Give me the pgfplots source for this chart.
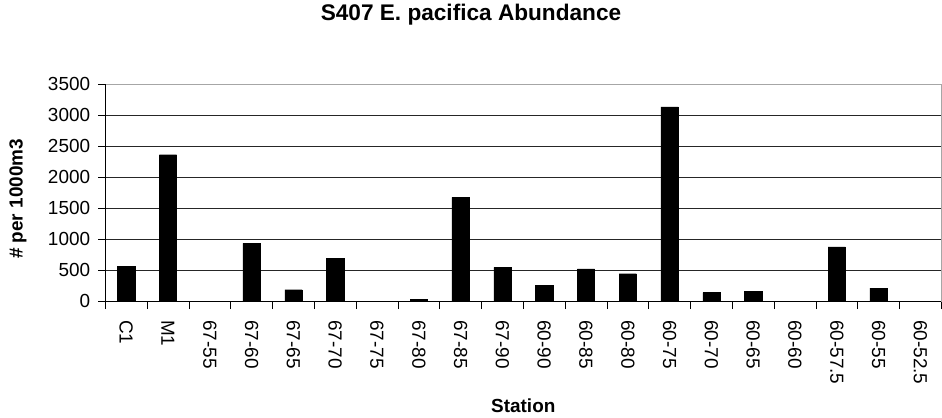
\documentclass[border=0pt]{standalone}
\usepackage{fontspec}
\setmainfont{Liberation Sans}
\usepackage{pgfplots}
\pgfplotsset{compat=1.18}

\pgfplotsset{
  tick label style={font=\fontsize{19}{19}\selectfont},
  label style={font=\bfseries\fontsize{19}{19}\selectfont},
}

\begin{document}
\begin{tikzpicture}[x=1bp,y=1bp]
\path[use as bounding box] (0,0) rectangle (942,417);
\begin{axis}[
    at={(105.3bp,116bp)}, anchor=south west,
    scale only axis,
    width=836bp, height=217bp,
    ybar, bar width=17.3bp,
    xmin=-0.5, xmax=19.5,
    ymin=0, ymax=3500,
    ytick={0,500,...,3500},
    xtick={0,...,19},
    xticklabels={C1,M1,67-55,67-60,67-65,67-70,67-75,67-80,67-85,67-90,
                 60-90,60-85,60-80,60-75,60-70,60-65,60-60,60-57.5,60-55,60-52.5},
    minor xtick={-0.5,0.5,...,19.5},
    xtick pos=bottom, ytick pos=left,
    major x tick style={draw=none},
    minor x tick style={black, line width=0.8bp},
    major y tick style={black, line width=0.8bp},
    tick align=outside,
    major tick length=7bp, minor tick length=8bp,
    ymajorgrids, grid style={black!85, line width=0.8bp},
    axis line style={gray!70, line width=1bp},
    /pgf/number format/assume math mode=true,
    /pgf/number format/1000 sep={},
    xticklabel style={rotate=-90, anchor=west, inner sep=0pt},
    xticklabel shift={12bp},
    yticklabel style={anchor=east, inner sep=0pt},
    yticklabel shift={8bp},
    title={S407 E. pacifica Abundance},
    title style={font=\bfseries\fontsize{22.7}{25}\selectfont, at={(rel axis cs:0.4374,1.29)}, anchor=center, yshift=0pt},
    xlabel={Station},
    xlabel style={at={(rel axis cs:0.5,-0.484)}, anchor=center},
    ylabel={\# per 1000m3},
    ylabel style={at={(rel axis cs:-0.1044,0.47)}, anchor=center, rotate=0},
    after end axis/.code={
      \draw[black, line width=1bp] (rel axis cs:0,1) -- (rel axis cs:0,0) -- (rel axis cs:1,0);
    },
]
\addplot[draw=black, fill=black] coordinates {
  (0,563) (1,2359) (2,0) (3,928) (4,182) (5,691) (6,0) (7,25) (8,1672) (9,542)
  (10,257) (11,520) (12,440) (13,3131) (14,134) (15,161) (16,0) (17,874) (18,209) (19,0)
};
\end{axis}
\end{tikzpicture}
\end{document}
